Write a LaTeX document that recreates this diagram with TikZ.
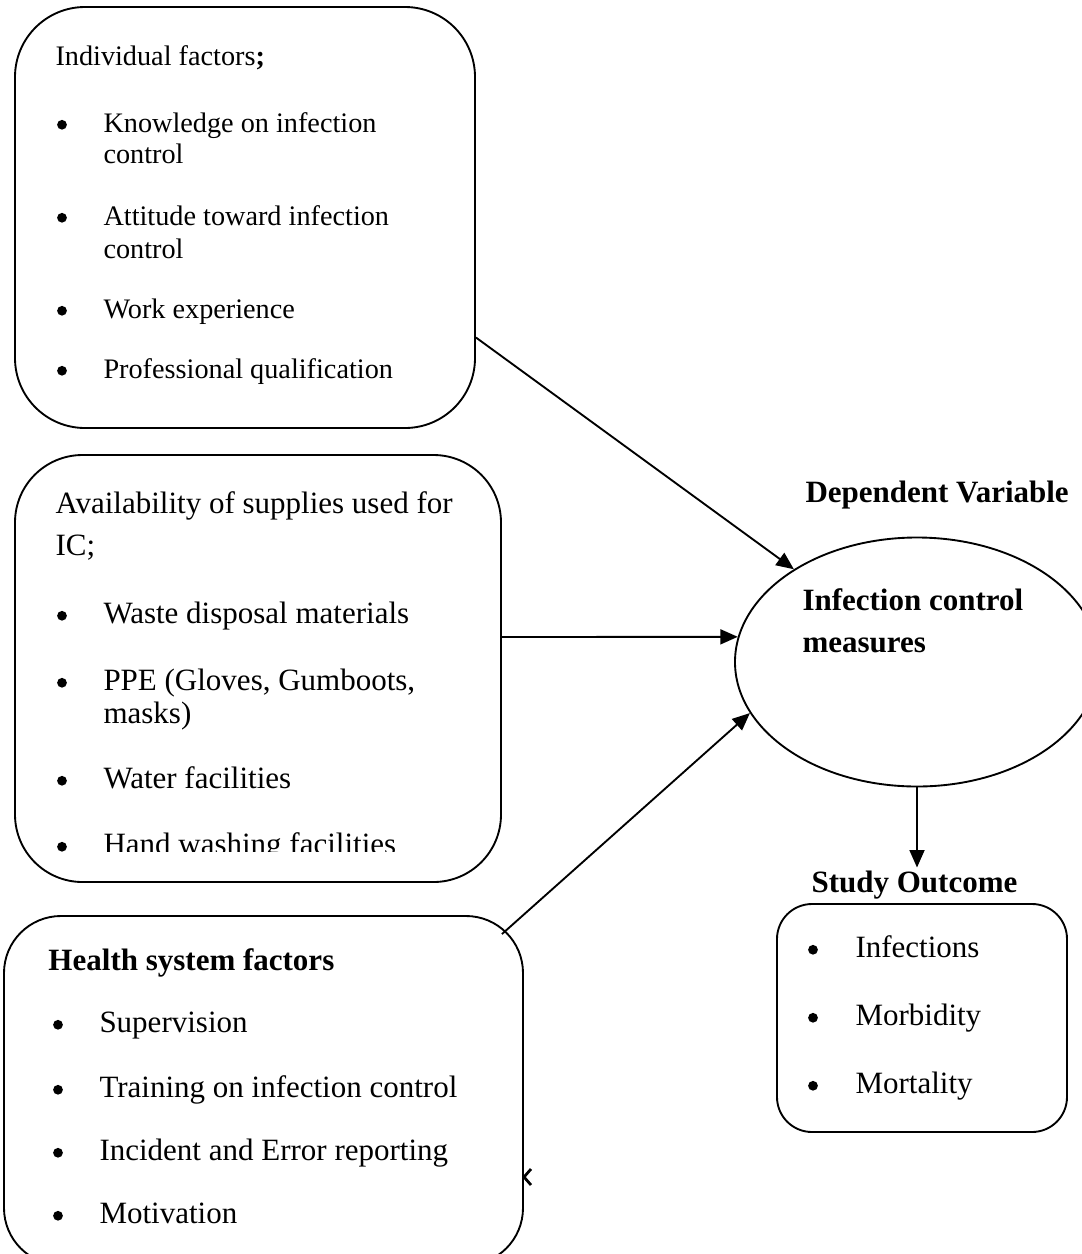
\documentclass[tikz,border=0pt]{standalone}
\usepackage{fontspec}
\setmainfont{Liberation Serif}
\usetikzlibrary{shapes.geometric,arrows.meta}

\tikzset{
  box/.style={draw, rectangle, line width=0.75pt, inner sep=0pt},
  txt/.style={anchor=base west, inner sep=0pt, font=\fontsize{12.4}{14}\selectfont},
  smalltxt/.style={anchor=base west, inner sep=0pt, font=\fontsize{11.3}{13}\selectfont},
  bul/.style={circle, fill, inner sep=0pt, minimum size=3.9pt, yshift=2.9pt},
  link/.style={->, line width=0.75pt},
}

\begin{document}
\begin{tikzpicture}[x=0.4pt, y=-0.4pt, >={Triangle[length=7pt,width=6pt]}]
    \useasboundingbox (0,0) rectangle (1081,1254);
    % Individual factors
    \node[box, minimum width=184pt, minimum height=168.4pt, rounded corners=28pt] (indiv) at (245,217.5) {};
    \node[smalltxt] (indivhead) at (55,65) {Individual factors\textbf{;}};
    \foreach \y [count=\i] in {132,225,318,378}
        \node[bul] (indivdot\i) at (62,\y) {};
    \foreach \y/\t [count=\i] in {132/Knowledge on infection, 163/control, 225/Attitude toward infection, 258/control, 318/Work experience, 378/Professional qualification}
        \node[smalltxt] (indivitem\i) at (103,\y) {\t};
    % Availability of supplies
    \node[box, minimum width=194.4pt, minimum height=170.8pt, rounded corners=27pt] (avail) at (258,668.5) {};
    \node[txt] (availhead) at (55,513) {Availability of supplies used for};
    \node[txt] (availhead2) at (55,555) {IC;};
    \foreach \y [count=\i] in {623,690,788,854}
        \node[bul] (availdot\i) at (62,\y) {};
    \foreach \y/\t [count=\i] in {623/Waste disposal materials, {690/PPE (Gloves, Gumboots,}, 723/masks), 788/Water facilities}
        \node[txt] (availitem\i) at (103,\y) {\t};
    \begin{scope}
        \clip (20,800) rectangle (495,851.5);
        \node[txt] (availitem5) at (103,854) {Hand washing facilities};
    \end{scope}
    % Health system factors
    \node[box, minimum width=207.6pt, minimum height=139.6pt, rounded corners=22.8pt] (health) at (263.5,1090.5) {};
    \node[txt, font=\fontsize{12.4}{14}\selectfont\bfseries] (healthhead) at (48,970) {Health system factors};
    \foreach \y/\t [count=\i] in {1032/Supervision, 1097/Training on infection control, 1160/Incident and Error reporting, 1223/Motivation} {
        \node[bul] (healthdot\i) at (58,\y) {};
        \node[txt] (healthitem\i) at (99,\y) {\t};
    }
    \draw[line width=1.1pt] (531,1169) -- (524,1177) -- (531,1185);
    % Dependent variable
    \node[txt, font=\fontsize{12.4}{14}\selectfont\bfseries] (deplabel) at (805,502) {Dependent Variable};
    \node[draw, ellipse, line width=0.75pt, inner sep=0pt, minimum width=145.6pt, minimum height=99.6pt] (icm) at (917,662) {};
    \node[txt, font=\fontsize{12.4}{14}\selectfont\bfseries] (icmtext) at (802,610) {Infection control};
    \node[txt, font=\fontsize{12.4}{14}\selectfont\bfseries] (icmtext2) at (802,652) {measures};
    % Study outcome
    \node[anchor=base, inner sep=1pt, font=\fontsize{12.4}{14}\selectfont\bfseries] (outtitle) at (914.5,892) {Study Outcome};
    \node[box, minimum width=116pt, minimum height=91.2pt, rounded corners=14pt] (outcome) at (922,1018) {};
    \foreach \y/\t [count=\i] in {957/Infections, 1025/Morbidity, 1093/Mortality} {
        \node[bul] (outdot\i) at (813,\y) {};
        \node[txt] (outitem\i) at (855,\y) {\t};
    }
    % Arrows
    \draw[link] ([yshift=-48pt]indiv.east) -- (icm.143);
    \draw[link] ([yshift=12.6pt]avail.east) -- (icm.172);
    \draw[link] ([xshift=-8.8pt,yshift=-7.6pt]health.north east) -- (icm.197);
    \draw[link] (icm.south) -- (icm.south |- outtitle.north);
\end{tikzpicture}
\end{document}
